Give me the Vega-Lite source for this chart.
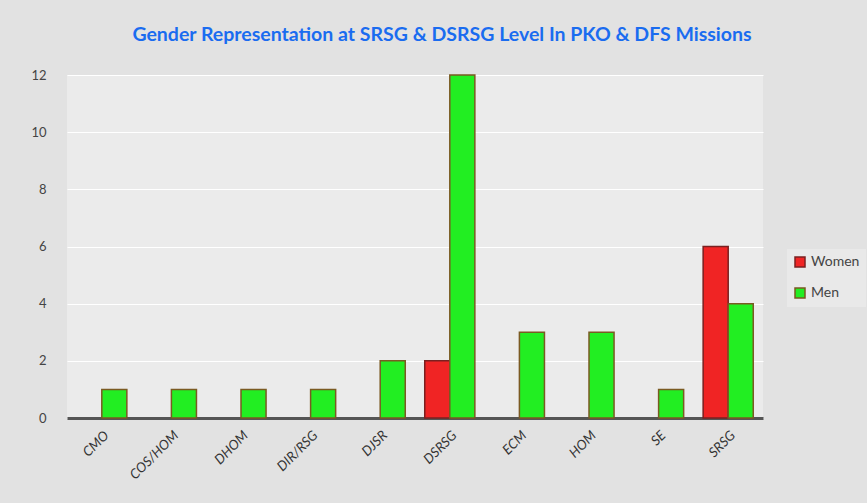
{
  "$schema": "https://vega.github.io/schema/vega-lite/v6.json",
  "width": 696,
  "height": 343,
  "autosize": "none",
  "padding": {"left": 67, "top": 75, "right": 104, "bottom": 85},
  "background": "#e2e2e2",
  "title": {
    "text": "Gender Representation at SRSG & DSRSG Level In PKO & DFS Missions",
    "font": "Lato",
    "fontSize": 19.5,
    "fontWeight": "bold",
    "color": "#1a6cf0",
    "anchor": "middle",
    "dx": 27,
    "offset": 24
  },
  "config": {
    "view": {"stroke": null, "fill": "#ebebeb"},
    "font": "Lato"
  },
  "data": {
    "values": [
      {"role": "CMO", "gender": "Men", "count": 1},
      {"role": "COS/HOM", "gender": "Men", "count": 1},
      {"role": "DHOM", "gender": "Men", "count": 1},
      {"role": "DIR/RSG", "gender": "Men", "count": 1},
      {"role": "DJSR", "gender": "Men", "count": 2},
      {"role": "DSRSG", "gender": "Women", "count": 2},
      {"role": "DSRSG", "gender": "Men", "count": 12},
      {"role": "ECM", "gender": "Men", "count": 3},
      {"role": "HOM", "gender": "Men", "count": 3},
      {"role": "SE", "gender": "Men", "count": 1},
      {"role": "SRSG", "gender": "Women", "count": 6},
      {"role": "SRSG", "gender": "Men", "count": 4}
    ]
  },
  "mark": {"type": "bar", "strokeWidth": 1.5},
  "encoding": {
    "x": {
      "field": "role",
      "type": "nominal",
      "sort": ["CMO", "COS/HOM", "DHOM", "DIR/RSG", "DJSR", "DSRSG", "ECM", "HOM", "SE", "SRSG"],
      "scale": {"paddingInner": 0.28, "paddingOuter": 0.14},
      "axis": {
        "title": null,
        "labelAngle": -45,
        "labelFontSize": 13.5,
        "labelColor": "#333333",
        "labelFontStyle": "italic",
        "labelPadding": 10,
        "ticks": false,
        "domainColor": "#555555",
        "domainWidth": 3
      }
    },
    "xOffset": {"field": "gender", "type": "nominal", "sort": ["Women", "Men"]},
    "y": {
      "field": "count",
      "type": "quantitative",
      "scale": {"domain": [0, 12]},
      "axis": {
        "title": null,
        "values": [0, 2, 4, 6, 8, 10, 12],
        "labelFontSize": 13,
        "labelColor": "#444444",
        "labelPadding": 21,
        "ticks": false,
        "domain": false,
        "gridColor": "#ffffff",
        "gridWidth": 1.2
      }
    },
    "color": {
      "field": "gender",
      "type": "nominal",
      "scale": {"domain": ["Women", "Men"], "range": ["#f02424", "#22ee22"]},
      "legend": {
        "title": null,
        "orient": "none",
        "legendX": 720,
        "legendY": 174,
        "symbolType": "square",
        "symbolSize": 100,
        "symbolStrokeWidth": 1.5,
        "labelFontSize": 14,
        "labelColor": "#444444",
        "rowPadding": 15,
        "fillColor": "#e9e9e9",
        "padding": 6
      }
    },
    "stroke": {
      "field": "gender",
      "type": "nominal",
      "scale": {"domain": ["Women", "Men"], "range": ["#7a2020", "#7a5a22"]},
      "legend": null
    }
  }
}
